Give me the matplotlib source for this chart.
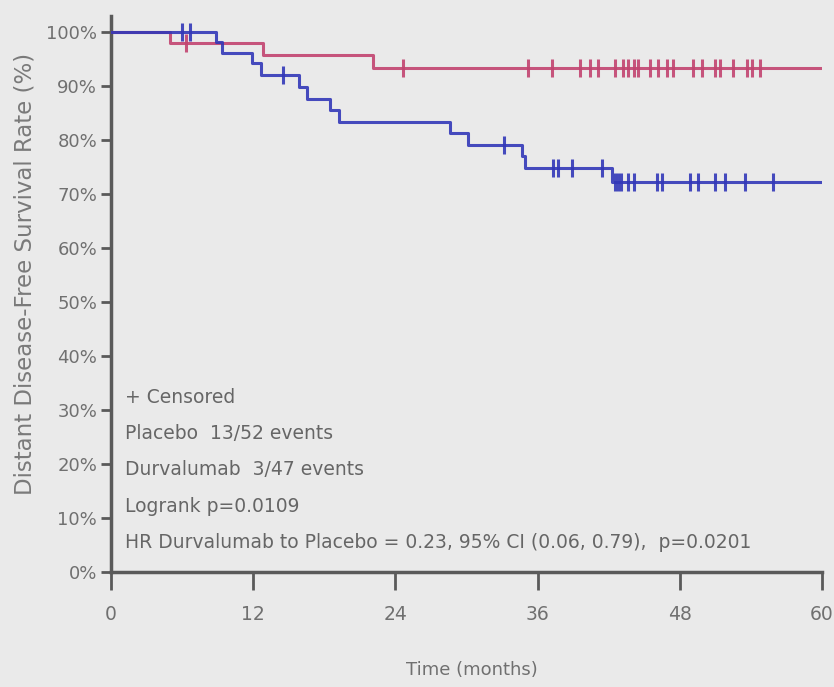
import matplotlib
matplotlib.use("Agg")
import matplotlib.pyplot as plt
import numpy as np

# Durvalumab (red, 47 pts, 3 events): step times / survival after step
durva_event_t = [0, 5.0, 12.8, 22.1]
durva_surv = [100, 97.9, 95.7, 93.4]
durva_cens = [6.3, 24.6, 35.2, 37.2, 39.6, 40.4, 41.1, 42.5, 43.2, 43.6, 44.1, 44.5,
              45.5, 46.2, 46.9, 47.4, 49.1, 49.9, 51.0, 51.4, 52.5, 53.7, 54.1, 54.8]

# Placebo (blue, 52 pts, 13 events)
plac_event_t = [0, 8.9, 9.4, 11.9, 12.7, 15.9, 16.5, 18.5, 19.2, 28.6, 30.1, 34.7, 34.9, 42.3]
plac_surv = [100, 98.1, 96.2, 94.2, 92.1, 89.8, 87.6, 85.6, 83.4, 81.3, 79.1, 77.0, 74.8, 72.3]
plac_cens = [6.0, 6.7, 14.5, 33.2, 37.3, 37.7, 38.9, 41.4, 42.5, 42.8, 43.0, 43.6, 44.1,
             46.1, 46.5, 48.9, 49.5, 51.0, 51.8, 53.5, 55.9]

t_end = 60
x_ticks = [0, 12, 24, 36, 48, 60]
y_ticks = list(range(0, 101, 10))
y_ticklabels = [f"{v}%" for v in y_ticks]

red = "#c24470"
blue = "#3338b8"
bg = "#eaeaea"
txt = "#707070"

fig = plt.figure(figsize=(8.34, 6.87), dpi=100, facecolor=bg)
ax = fig.add_axes([0.1331, 0.1674, 0.8525, 0.8096], facecolor=bg)

def km_plot(times, surv, cens, color):
    xs = list(times) + [t_end]
    ys = list(surv) + [surv[-1]]
    ax.step(xs, ys, where="post", color=color, lw=2.2, alpha=0.9, zorder=3)
    cy = [surv[np.searchsorted(times, c, side="right") - 1] for c in cens]
    ax.plot(cens, cy, ls="none", marker="|", ms=13, mew=2.2, color=color, alpha=0.9, zorder=4)

km_plot(durva_event_t, durva_surv, durva_cens, red)
km_plot(plac_event_t, plac_surv, plac_cens, blue)

ax.set_xlim(0, 60)
ax.set_ylim(0, 103)
ax.set_xticks(x_ticks)
ax.set_yticks(y_ticks)
ax.set_yticklabels(y_ticklabels)
for s in ["top", "right"]:
    ax.spines[s].set_visible(False)
for s in ["left", "bottom"]:
    ax.spines[s].set_color("#5a5a5a")
    ax.spines[s].set_linewidth(2.5)
ax.tick_params(axis="x", direction="out", length=13, width=2, color="#5a5a5a",
               labelsize=13.5, labelcolor=txt, pad=11)
ax.tick_params(axis="y", direction="out", length=7, width=2, color="#5a5a5a",
               labelsize=13, labelcolor=txt, pad=3)

ax.set_xlabel("Time (months)", fontsize=13, color=txt)
ax.xaxis.set_label_coords(0.507, -0.16)
ax.set_ylabel("Distant Disease-Free Survival Rate (%)", fontsize=16.5, color="#7a7a7a")
ax.yaxis.set_label_coords(-0.105, 0.535)

lines = ["+ Censored",
         "Placebo  13/52 events",
         "Durvalumab  3/47 events",
         "Logrank p=0.0109",
         "HR Durvalumab to Placebo = 0.23, 95% CI (0.06, 0.79),  p=0.0201"]
y0 = 32.3
for i, s in enumerate(lines):
    ax.text(1.2, y0 - i * 6.7, s, fontsize=13.5, color="#666666", va="center", ha="left")

fig.savefig("out.png", dpi=100, facecolor=bg)
